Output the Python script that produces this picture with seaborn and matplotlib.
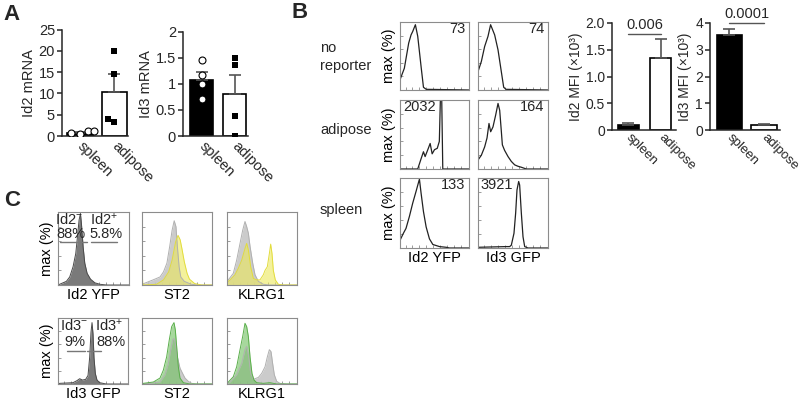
import matplotlib
matplotlib.use("Agg")
import matplotlib.pyplot as plt
import seaborn as sns
import numpy as np

# ---------------- data ----------------
groups = ["spleen", "adipose"]

# A: mRNA (bar = mean, sem shown upward only)
id2_mrna_mean = [0.8, 10.3]
id2_mrna_sem = [0.25, 4.2]
id2_mrna_spleen = [0.5, 0.7, 1.1, 1.2]
id2_mrna_adipose = [20.0, 14.5, 4.0, 3.2]
id3_mrna_mean = [1.07, 0.80]
id3_mrna_sem = [0.16, 0.37]
id3_mrna_spleen = [1.45, 1.17, 1.0, 0.7]
id3_mrna_adipose = [1.5, 1.35, 0.38, 0.0]

# B: MFI (x10^3)
id2_mfi_mean = [0.10, 1.35]
id2_mfi_sem = [0.03, 0.35]
id3_mfi_mean = [3.55, 0.17]
id3_mfi_sem = [0.23, 0.05]
id2_mfi_p = "0.006"
id3_mfi_p = "0.0001"

# B: histograms (x = % of axis width, y = % of max)
b_norep_id2_x = [0, 6.3, 12.6, 16, 18.4, 22.3, 25.7, 30.6, 34, 38, 100]
b_norep_id2_y = [15, 32, 69, 81, 86, 96, 79, 34, 4, 1, 0]
b_norep_id3_x = [0, 4.8, 9.5, 14.3, 18, 23.8, 28.6, 33.3, 36.7, 40, 100]
b_norep_id3_y = [27, 42, 64, 79, 96, 81, 59, 27, 4, 1, 0]
b_adip_id2_x = [0, 25.7, 30.6, 34, 36.4, 40.3, 43.7, 46.6, 50, 54, 57, 58.5, 60.5, 62, 100]
b_adip_id2_y = [0, 0, 15, 25, 18, 28, 37, 22, 28, 30, 40, 100, 100, 0, 0]
b_adip_id3_x = [0, 4.8, 9.5, 12.9, 15.7, 18.1, 21.4, 25.2, 28.6, 31, 33.3, 34.8, 38,
                42.9, 47.6, 52.4, 57, 62, 69, 100]
b_adip_id3_y = [13, 20, 32, 45, 66, 54, 61, 78, 95, 85, 55, 35, 27, 18, 11, 6, 4, 2.5, 0, 0]
b_spl_id2_x = [0, 4.9, 8.7, 13.6, 18.4, 23.3, 27.2, 28.2, 30.6, 34, 37.9, 42.7, 47.6,
               57.3, 67, 71.8, 100]
b_spl_id2_y = [11, 21, 28, 45, 64, 81, 95, 98, 78, 52, 30, 13, 5, 2, 1, 0, 0]
b_spl_id3_x = [0, 20, 40, 45.2, 47.6, 51.4, 53.8, 55.7, 58.1, 59.5, 61.9, 64.3, 66.7, 71.4, 100]
b_spl_id3_y = [1, 1.5, 2, 2, 4, 21, 50, 83, 95, 90, 50, 16, 2, 0, 0]
b_mfi_labels = [["73", "74"], ["2032", "164"], ["133", "3921"]]
b_rows = ["no\nreporter", "adipose", "spleen"]
b_cols = ["Id2 YFP", "Id3 GFP"]

# C: histograms
c_id2_x = [0, 11.8, 16.5, 21.2, 25, 27.4, 29.7, 31.6, 33, 35.4, 37.7, 41, 45.8, 51.9, 59, 68.4, 100]
c_id2_y = [0, 5, 11, 25, 43, 66, 89, 98, 84, 52, 30, 16, 8, 3, 1, 0, 0]
c_id3_x = [0, 2.4, 21.4, 27, 31, 34.8, 39.5, 42.9, 45.2, 47.1, 48.6, 50, 51.4, 53.3,
           55.7, 59.5, 69, 100]
c_id3_y = [0, 1, 2, 5, 8, 6, 7, 13, 40, 78, 93, 76, 40, 16, 6, 2, 0, 0]
c_st2_ctrl1_x = [0, 15.8, 25.7, 30.7, 35.6, 39.6, 43, 46, 48.5, 50.5, 53, 55.4, 60.4, 70.3, 80, 100]
c_st2_ctrl1_y = [1, 7, 11, 18, 30, 53, 75, 88, 80, 53, 25, 11, 5, 1, 0, 0]
c_st2_id2_x = [0, 1, 2, 20.8, 30.7, 38.1, 43, 48, 51.5, 54.5, 57, 60.4, 64.4, 67.8, 75.2, 85, 100]
c_st2_id2_y = [25, 2, 0, 1, 7, 18, 34, 59, 68, 62, 50, 32, 16, 8, 2, 0, 0]
c_klrg1_ctrl1_x = [0, 1.9, 9, 13.8, 18.6, 22.4, 25.7, 28.1, 30.5, 32.9, 36.7, 40, 44.8, 51.9, 60, 100]
c_klrg1_ctrl1_y = [3, 7, 16, 34, 57, 75, 87, 80, 71, 53, 30, 14, 5, 1, 0, 0]
c_klrg1_id2_x = [0, 0.8, 4.3, 11.4, 16.2, 21, 25.7, 28.1, 30.5, 33.8, 37.6, 42.4, 47.1, 51.9,
                 54.3, 57.6, 60.5, 62.4, 64.3, 66.2, 69, 73.3, 80.5, 100]
c_klrg1_id2_y = [100, 4, 7, 14, 23, 34, 50, 57, 48, 25, 9, 7, 7, 14, 20, 25, 43, 56, 43, 20,
                 7, 1, 0, 0]
c_st2_ctrl2_x = [0, 11.4, 25.7, 32.9, 37.6, 41, 43.8, 45.7, 47.6, 50.5, 54.3, 58, 61.4, 66.2, 71, 78, 100]
c_st2_ctrl2_y = [0, 1, 3, 14, 31, 52, 67, 69, 62, 41, 24, 16, 9, 4, 1, 0, 0]
c_st2_id3_x = [0, 1.9, 16.2, 25.7, 30.5, 35.2, 39, 42.4, 45.7, 47.6, 49.5, 51.9, 54.3, 59, 68.6, 100]
c_st2_id3_y = [0, 1, 3, 9, 21, 41, 67, 87, 93, 82, 57, 26, 9, 2, 0, 0]
c_klrg1_ctrl2_x = [0, 4.3, 13.8, 21, 25.7, 28.1, 31, 33.8, 37.6, 44.8, 49.5, 54.3, 57.6, 60.5,
                   62.9, 65.2, 67.6, 71, 75.7, 85.2, 100]
c_klrg1_ctrl2_y = [0, 3, 14, 31, 52, 57, 41, 16, 7, 10, 16, 26, 41, 52, 49, 31, 14, 4, 1, 0, 0]
c_klrg1_id3_x = [0, 1.9, 9, 13.8, 18.6, 22.4, 25.7, 28.1, 30.5, 32.9, 35.7, 38.6, 42.4, 51.9, 61.4, 71, 100]
c_klrg1_id3_y = [0, 3, 11, 26, 52, 72, 92, 87, 72, 41, 16, 6, 2, 1, 2, 0, 0]

# ---------------- style ----------------
sns.set_style("ticks")
plt.rcParams["font.family"] = ["Liberation Sans", "DejaVu Sans"]
plt.rcParams["font.size"] = 10
plt.rcParams["mathtext.fontset"] = "custom"
plt.rcParams["mathtext.rm"] = "Liberation Sans"
plt.rcParams["mathtext.it"] = "Liberation Sans:italic"
plt.rcParams["mathtext.bf"] = "Liberation Sans:bold"

W, H = 800, 405
fig = plt.figure(figsize=(W / 100, H / 100), dpi=100)

BOX = "#8c8c8c"
GRAY = "#c6c6c6"
YELLOW = "#ece85a"
GREEN = "#6cbf5c"


def add_ax(left, top, right, bottom):
    return fig.add_axes([left / W, 1 - bottom / H, (right - left) / W, (bottom - top) / H])


def bar_panel(ax, means, sems, pts_spleen, pts_adipose, ylabel, yticks, yticklabels, width, xlim,
              fs=10.5, xfs=10.5, xpad=6):
    sns.barplot(x=groups, y=means, hue=groups, palette=["black", "white"], edgecolor="black",
                linewidth=1.2, width=width, errorbar=None, legend=False, ax=ax, zorder=2)
    ax.errorbar([0, 1], means, yerr=[[0, 0], sems], fmt="none", ecolor="#555555",
                elinewidth=1.2, capsize=4, capthick=1.2, zorder=3)
    if pts_spleen is not None:
        sns.swarmplot(x=["spleen"] * len(pts_spleen), y=pts_spleen, order=groups, marker="o",
                      color="white", edgecolor="black", linewidth=0.8, size=5, ax=ax, zorder=4)
        sns.swarmplot(x=["adipose"] * len(pts_adipose), y=pts_adipose, order=groups, marker="s",
                      color="black", size=5, ax=ax, zorder=4)
    ax.set_ylim(yticks[0], yticks[-1])
    ax.set_xlim(*xlim)
    ax.set_yticks(yticks)
    ax.set_yticklabels(yticklabels)
    ax.set_xticks([0, 1])
    ax.set_xticklabels(groups, rotation=-45, ha="left", va="center", rotation_mode="anchor",
                       fontsize=xfs)
    ax.set_ylabel(ylabel, fontsize=fs, labelpad=2)
    ax.set_xlabel("")
    ax.tick_params(axis="y", labelsize=fs, length=3.5, width=1.1, pad=1.5)
    ax.tick_params(axis="x", pad=xpad, length=0)
    for s in ["left", "bottom"]:
        ax.spines[s].set_linewidth(1.1)
    sns.despine(ax=ax)


def hist_box(ax, xlabel=None, ylabel=None):
    ax.set_xlim(0, 100)
    ax.set_ylim(0, 100)
    for s in ax.spines.values():
        s.set_visible(True)
        s.set_color(BOX)
        s.set_linewidth(0.8)
    ax.set_xticks([8, 18, 28, 38, 48, 58, 68, 78, 88])
    ax.set_yticks([20, 40, 60, 80])
    ax.tick_params(direction="in", length=2, width=0.6, colors=BOX,
                   labelbottom=False, labelleft=False)
    ax.set_xlabel(xlabel if xlabel else "", fontsize=10.5, color="black", labelpad=2)
    ax.set_ylabel(ylabel if ylabel else "", fontsize=10.5, color="black", labelpad=3)


def outline(ax, x, y, color="#222222", lw=0.9):
    sns.lineplot(x=x, y=y, sort=False, estimator=None, color=color, lw=lw, ax=ax)


def filled(ax, x, y, face, alpha, edge):
    ax.fill_between(x, y, 0, color=face, alpha=alpha, lw=0)
    outline(ax, x, y, color=edge, lw=0.7)


# ---------------- panel A ----------------
fig.text(12 / W, 1 - 14 / H, "A", fontsize=16, fontweight="bold", ha="center", va="center")
ax = add_ax(62, 29.5, 128, 136)
bar_panel(ax, id2_mrna_mean, id2_mrna_sem, id2_mrna_spleen, id2_mrna_adipose, "Id2 mRNA",
          [0, 5, 10, 15, 20, 25], ["0", "5", "10", "15", "20", "25"], 0.74, (-0.52, 1.4))
ax = add_ax(183, 31.5, 248, 136)
bar_panel(ax, id3_mrna_mean, id3_mrna_sem, id3_mrna_spleen, id3_mrna_adipose, "Id3 mRNA",
          [0, 0.5, 1, 1.5, 2], ["0", "0.5", "1", "1.5", "2"], 0.7, (-0.56, 1.4))

# ---------------- panel B ----------------
fig.text(300 / W, 1 - 13 / H, "B", fontsize=16, fontweight="bold", ha="center", va="center")
row_y = [(22, 90), (100, 169), (178, 248)]
col_x = [(400, 469), (478, 548)]
row_label_y = [57, 130, 210]
b_curves = [[(b_norep_id2_x, b_norep_id2_y), (b_norep_id3_x, b_norep_id3_y)],
            [(b_adip_id2_x, b_adip_id2_y), (b_adip_id3_x, b_adip_id3_y)],
            [(b_spl_id2_x, b_spl_id2_y), (b_spl_id3_x, b_spl_id3_y)]]
for r, (top, bot) in enumerate(row_y):
    fig.text(320 / W, 1 - row_label_y[r] / H, b_rows[r], fontsize=10.5, ha="left", va="center",
             linespacing=1.3)
    for c, (left, right) in enumerate(col_x):
        ax = add_ax(left, top, right, bot)
        x, y = b_curves[r][c]
        outline(ax, x, y)
        hist_box(ax, xlabel=b_cols[c] if r == 2 else None, ylabel="max (%)" if c == 0 else None)
        lab = b_mfi_labels[r][c]
        if len(lab) > 3:
            ax.text(0.04, 0.9, lab, transform=ax.transAxes, ha="left", va="center", fontsize=10.5)
        else:
            ax.text(0.95, 0.9, lab, transform=ax.transAxes, ha="right", va="center", fontsize=10.5)

ax = add_ax(612, 23, 676, 130)
bar_panel(ax, id2_mfi_mean, id2_mfi_sem, None, None, "Id2 MFI (×10³)",
          [0, 0.5, 1.0, 1.5, 2.0], ["0", "0.5", "1.0", "1.5", "2.0"], 0.66, (-0.5, 1.47),
          fs=10, xfs=9.5, xpad=4)
ax.plot([0, 1], [1.79, 1.79], color="#555555", lw=1, clip_on=False)
ax.text(0.5, 1.84, id2_mfi_p, ha="center", va="bottom", fontsize=10.5)
ax = add_ax(710, 23, 780, 130)
bar_panel(ax, id3_mfi_mean, id3_mfi_sem, None, None, "Id3 MFI (×10³)",
          [0, 1, 2, 3, 4], ["0", "1", "2", "3", "4"], 0.72, (-0.55, 1.46),
          fs=10, xfs=9.5, xpad=4)
ax.plot([0, 1], [4.0, 4.0], color="#555555", lw=1, clip_on=False)
ax.text(0.5, 4.08, id3_mfi_p, ha="center", va="bottom", fontsize=10.5)

# ---------------- panel C ----------------
fig.text(12 / W, 1 - 201 / H, "C", fontsize=16, fontweight="bold", ha="center", va="center")
c_cols = [(58, 129), (142, 212), (227, 297)]
c_rows = [(212, 285), (318, 384)]

# row 1: Id2
ax = add_ax(c_cols[0][0], c_rows[0][0], c_cols[0][1], c_rows[0][1])
filled(ax, c_id2_x, c_id2_y, "#7a7a7a", 1.0, "#4a4a4a")
hist_box(ax, "Id2 YFP", "max (%)")
ax.plot([3, 41], [59, 59], color="#777777", lw=1)
ax.plot([46, 83], [59, 59], color="#777777", lw=1)
ax.text(15, 90, r"Id2$^{-}$", ha="center", va="center", fontsize=10.5)
ax.text(18, 70, "88%", ha="center", va="center", fontsize=10.5)
ax.text(65, 90, r"Id2$^{+}$", ha="center", va="center", fontsize=10.5)
ax.text(67, 70, "5.8%", ha="center", va="center", fontsize=10.5)

ax = add_ax(c_cols[1][0], c_rows[0][0], c_cols[1][1], c_rows[0][1])
filled(ax, c_st2_ctrl1_x, c_st2_ctrl1_y, GRAY, 0.9, "#b0b0b0")
filled(ax, c_st2_id2_x, c_st2_id2_y, YELLOW, 0.6, "#e2dc3c")
hist_box(ax, "ST2")

ax = add_ax(c_cols[2][0], c_rows[0][0], c_cols[2][1], c_rows[0][1])
filled(ax, c_klrg1_ctrl1_x, c_klrg1_ctrl1_y, GRAY, 0.9, "#b0b0b0")
filled(ax, c_klrg1_id2_x, c_klrg1_id2_y, YELLOW, 0.6, "#e2dc3c")
hist_box(ax, "KLRG1")

# row 2: Id3
ax = add_ax(c_cols[0][0], c_rows[1][0], c_cols[0][1] - 1, c_rows[1][1])
filled(ax, c_id3_x, c_id3_y, "#7a7a7a", 1.0, "#4a4a4a")
hist_box(ax, "Id3 GFP", "max (%)")
ax.plot([13, 38.5], [50, 50], color="#777777", lw=1)
ax.plot([41, 61], [50, 50], color="#777777", lw=1)
ax.text(23, 89, r"Id3$^{-}$", ha="center", va="center", fontsize=10.5)
ax.text(23.5, 64, "9%", ha="center", va="center", fontsize=10.5)
ax.text(73, 89, r"Id3$^{+}$", ha="center", va="center", fontsize=10.5)
ax.text(75, 64, "88%", ha="center", va="center", fontsize=10.5)

ax = add_ax(c_cols[1][0], c_rows[1][0], c_cols[1][1], c_rows[1][1])
filled(ax, c_st2_ctrl2_x, c_st2_ctrl2_y, GRAY, 0.9, "#b0b0b0")
filled(ax, c_st2_id3_x, c_st2_id3_y, GREEN, 0.6, "#5aae4a")
hist_box(ax, "ST2")

ax = add_ax(c_cols[2][0], c_rows[1][0], c_cols[2][1], c_rows[1][1])
filled(ax, c_klrg1_ctrl2_x, c_klrg1_ctrl2_y, GRAY, 0.9, "#b0b0b0")
filled(ax, c_klrg1_id3_x, c_klrg1_id3_y, GREEN, 0.6, "#5aae4a")
hist_box(ax, "KLRG1")

fig.savefig("out.png", dpi=100, facecolor="white")
